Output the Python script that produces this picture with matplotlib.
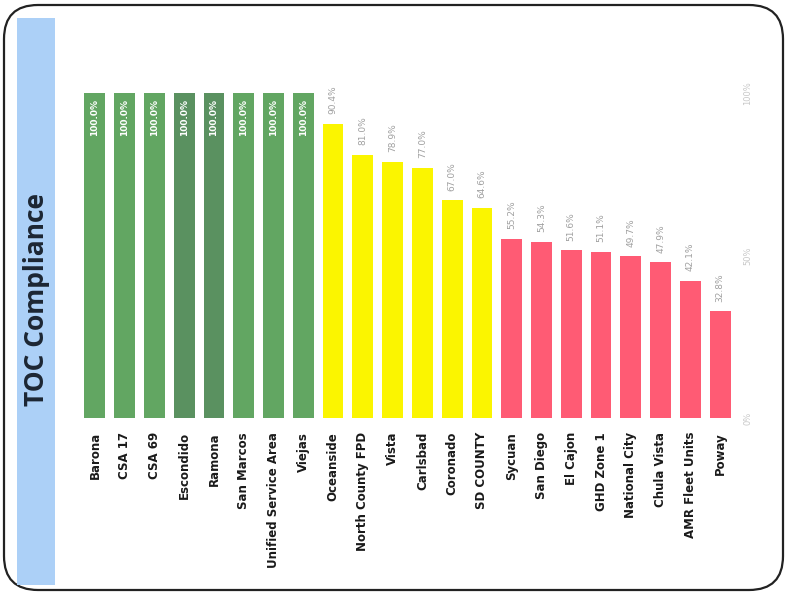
import matplotlib
matplotlib.use("Agg")
import matplotlib.pyplot as plt
from matplotlib.patches import FancyBboxPatch, Rectangle
from matplotlib.transforms import IdentityTransform

# TOC compliance by agency (percent)
agencies = ["Barona", "CSA 17", "CSA 69", "Escondido", "Ramona", "San Marcos",
            "Unified Service Area", "Viejas", "Oceanside", "North County FPD",
            "Vista", "Carlsbad", "Coronado", "SD COUNTY", "Sycuan", "San Diego",
            "El Cajon", "GHD Zone 1", "National City", "Chula Vista",
            "AMR Fleet Units", "Poway"]
compliance = [100.0, 100.0, 100.0, 100.0, 100.0, 100.0, 100.0, 100.0,
              90.4, 81.0, 78.9, 77.0, 67.0, 64.6,
              55.2, 54.3, 51.6, 51.1, 49.7, 47.9, 42.1, 32.8]
yticks = [0, 50, 100]
ytick_labels = ["0%", "50%", "100%"]

green = "#62a662"
green_dark = "#5a9160"
yellow = "#fbf500"
red = "#ff5b74"


def bar_color(name, v):
    if v >= 100:
        return green_dark if name in ("Escondido", "Ramona") else green
    if v >= 60:
        return yellow
    return red


colors = [bar_color(n, v) for n, v in zip(agencies, compliance)]

W, H = 785, 597
fig = plt.figure(figsize=(W / 100, H / 100), dpi=100)
fig.patch.set_facecolor("white")

# rounded frame and title strip, in pixel coordinates
frame = FancyBboxPatch((4, 7), 779, 585, boxstyle="round,pad=0,rounding_size=34",
                       transform=IdentityTransform(), facecolor="none",
                       edgecolor="#222222", linewidth=1.6, zorder=0)
fig.patches.append(frame)
strip = Rectangle((17, 12), 38, 567, transform=IdentityTransform(),
                  facecolor="#acd0f7", edgecolor="none", zorder=1)
fig.patches.append(strip)
fig.text(37 / W, 298 / H, "TOC Compliance", rotation=90, ha="center", va="center",
         fontsize=19, fontweight="bold", family="Open Sans", color="#1c2633")

ax = fig.add_axes([80 / W, 179 / H, 655 / W, 325 / H])
ax.set_zorder(3)
ax.set_facecolor("none")
x = list(range(len(agencies)))
ax.bar(x, compliance, width=0.7, color=colors, zorder=2)
ax.set_xlim(-0.5, len(agencies) - 0.5)
ax.set_ylim(0, 100)

for i, v in enumerate(compliance):
    if v >= 100:
        ax.annotate(f"{v:.1f}%", (i, v), xytext=(0, -4), textcoords="offset points",
                    rotation=90, ha="center", va="top", fontsize=6.5,
                    color="white", fontweight="bold")
    else:
        ax.annotate(f"{v:.1f}%", (i, v), xytext=(0, 7), textcoords="offset points",
                    rotation=90, ha="center", va="bottom", fontsize=6.5,
                    color="#a0a0a0", annotation_clip=False)

ax.set_xticks(x)
ax.set_xticklabels(agencies, rotation=90, fontsize=8.5, color="#1a1a1a",
                   fontweight="semibold")
ax.tick_params(axis="x", length=0, pad=10)

ax.yaxis.tick_right()
ax.set_yticks(yticks)
ax.set_yticklabels(ytick_labels, rotation=90, va="center", fontsize=6, color="#c8c8c8")
ax.tick_params(axis="y", length=0, pad=6)

for s in ax.spines.values():
    s.set_visible(False)

fig.savefig("out.png", dpi=100)
